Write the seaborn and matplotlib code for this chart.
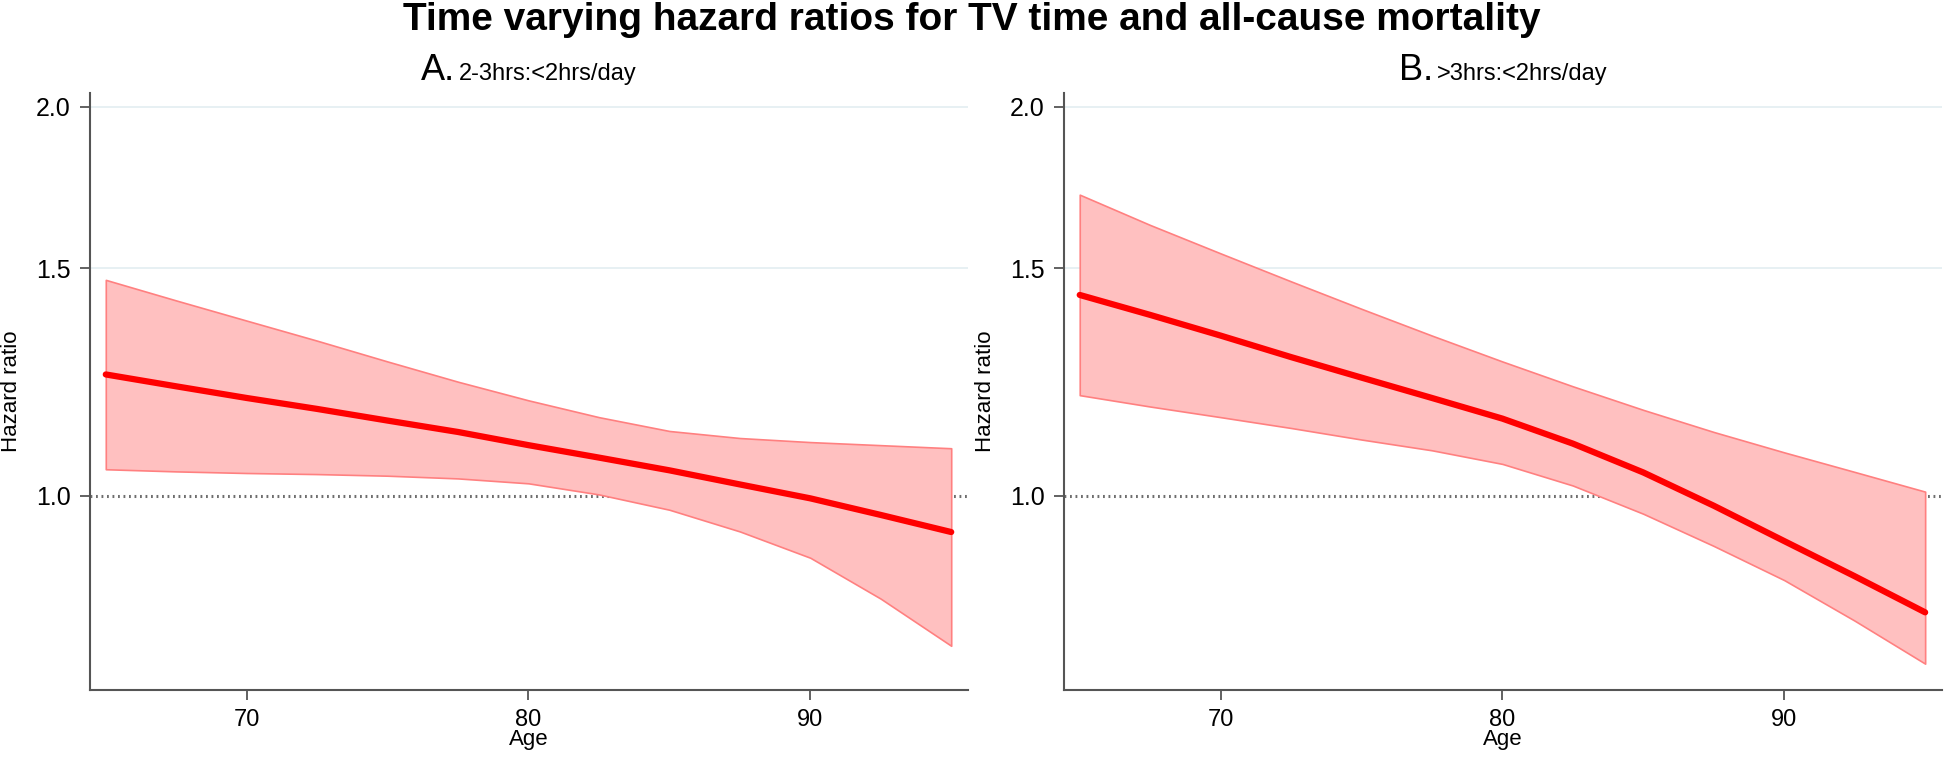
import matplotlib

matplotlib.use("Agg")

import numpy as np
import pandas as pd
import matplotlib.pyplot as plt
import seaborn as sns
from matplotlib.offsetbox import TextArea, HPacker, AnchoredOffsetbox

# values (hazard ratio by age)
age = [65, 67.5, 70, 72.5, 75, 77.5, 80, 82.5, 85, 87.5, 90, 92.5, 95]

hr_a = [1.241, 1.215, 1.19, 1.167, 1.143, 1.12, 1.094, 1.07, 1.046, 1.02, 0.995, 0.966, 0.937]
lo_a = [1.048, 1.044, 1.041, 1.039, 1.036, 1.031, 1.022, 1.002, 0.975, 0.938, 0.895, 0.832, 0.765]
hi_a = [1.469, 1.416, 1.366, 1.318, 1.27, 1.225, 1.185, 1.15, 1.122, 1.108, 1.10, 1.094, 1.088]

hr_b = [1.43, 1.38, 1.33, 1.28, 1.234, 1.19, 1.147, 1.097, 1.042, 0.982, 0.922, 0.866, 0.812]
lo_b = [1.196, 1.172, 1.15, 1.128, 1.105, 1.084, 1.058, 1.018, 0.968, 0.914, 0.86, 0.80, 0.741]
hi_b = [1.71, 1.62, 1.54, 1.465, 1.395, 1.33, 1.27, 1.215, 1.165, 1.12, 1.08, 1.043, 1.007]

panel_letters = ["A.", "B."]
panel_labels = ["2-3hrs:<2hrs/day", ">3hrs:<2hrs/day"]
yticks = [1.0, 1.5, 2.0]
xticks = [70, 80, 90]

sns.set_style("white")
plt.rcParams['font.family'] = ['Liberation Sans', 'DejaVu Sans']
plt.rcParams['text.color'] = 'black'
plt.rcParams['axes.labelcolor'] = 'black'
plt.rcParams['xtick.color'] = 'black'
plt.rcParams['ytick.color'] = 'black'

fig = plt.figure(figsize=(19.44, 7.62), dpi=100)
ax_a = fig.add_axes([0.0463, 0.0945, 0.4517, 0.7835])
ax_b = fig.add_axes([0.5473, 0.0945, 0.4517, 0.7835])

panels = [
    (ax_a, hr_a, lo_a, hi_a),
    (ax_b, hr_b, lo_b, hi_b),
]

for i, (ax, hr, lo, hi) in enumerate(panels):
    df = pd.DataFrame({'Age': age, 'HR': hr, 'lo': lo, 'hi': hi})
    ax.set_yscale('log')
    for yv in [1.5, 2.0]:
        ax.axhline(yv, color='#e3edf1', lw=1.2, zorder=0)
    ax.axhline(1.0, color='#6e6e6e', lw=2.2, ls=(0, (0.6, 1.2)), zorder=1)
    ax.fill_between(df['Age'], df['lo'], df['hi'], color='#ffc0c0',
                    edgecolor='#ff8080', lw=1.2, zorder=2)
    sns.lineplot(data=df, x='Age', y='HR', ax=ax, color='#ff0000', lw=4.5, zorder=3)

    ax.set_xlim(64.44, 95.6)
    ax.set_ylim(0.707, 2.05)
    ax.set_xticks(xticks)
    ax.set_xticklabels([str(t) for t in xticks], fontsize=17)
    ax.set_yticks(yticks)
    ax.set_yticklabels([f"{t:.1f}" for t in yticks], fontsize=18)
    ax.yaxis.set_minor_locator(matplotlib.ticker.NullLocator())
    ax.tick_params(axis='both', direction='out', length=7, width=1.3,
                   color='#555555', left=True, bottom=True, pad=7)
    ax.set_xlabel('Age', fontsize=16, labelpad=-2)
    ax.set_ylabel('Hazard ratio', fontsize=16, labelpad=10)
    sns.despine(ax=ax)
    for side in ['left', 'bottom']:
        ax.spines[side].set_color('#555555')
        ax.spines[side].set_linewidth(1.5)

    box = HPacker(children=[TextArea(panel_letters[i], textprops=dict(size=26)),
                            TextArea(panel_labels[i], textprops=dict(size=17))],
                  align='baseline', pad=0, sep=3)
    anchored = AnchoredOffsetbox(loc='lower center', child=box, pad=0, frameon=False,
                                 bbox_to_anchor=(0.5, 1.008),
                                 bbox_transform=ax.transAxes, borderpad=0)
    ax.add_artist(anchored)

fig.suptitle('Time varying hazard ratios for TV time and all-cause mortality',
             fontsize=28, fontweight='bold', y=0.998, va='top')

fig.savefig('out.png', dpi=100)
